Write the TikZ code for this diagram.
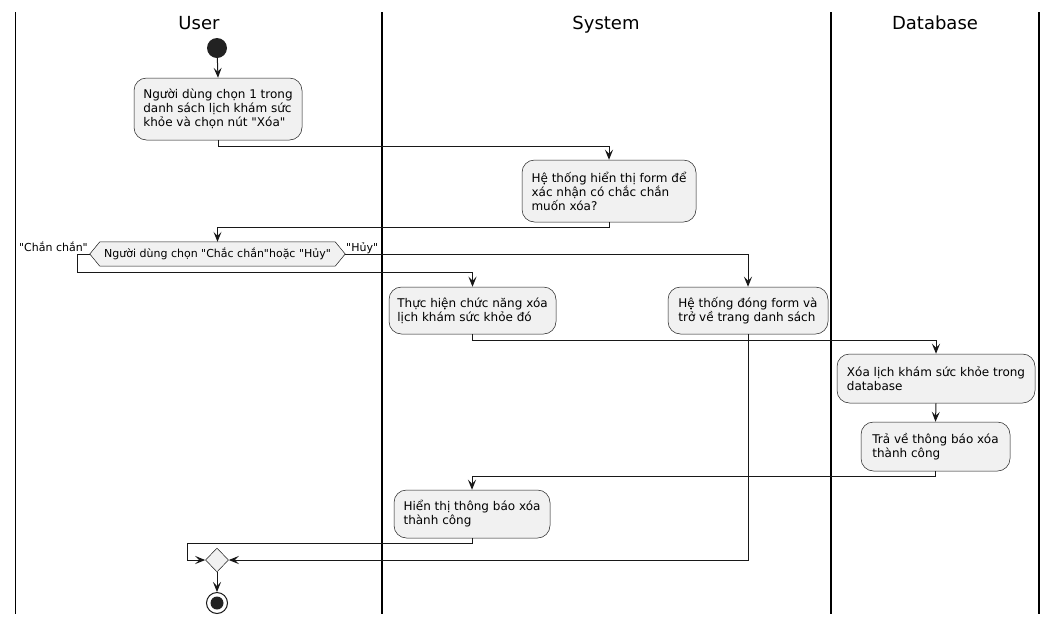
\documentclass[tikz,border=0pt]{standalone}
\usepackage{fontspec}
\setmainfont{DejaVu Sans}[Ligatures=TeXOff]
\usetikzlibrary{arrows.meta,shapes.geometric,calc,backgrounds}

\definecolor{actfill}{HTML}{F1F1F1}
\definecolor{ink}{HTML}{181818}
\definecolor{startfill}{HTML}{222222}

\begin{document}
\begin{tikzpicture}[x=1pt,y=-1pt,
  lane/.style={line width=1.5pt, black},
  head/.style={font=\fontsize{18}{21}\selectfont, anchor=base, inner sep=0pt},
  act/.style={draw=ink, line width=0.5pt, fill=actfill, rounded corners=12.5pt,
              align=left, font=\fontsize{12}{14}\selectfont, inner sep=0pt},
  flow/.style={draw=ink, line width=1pt, -{Stealth[length=10pt,width=8pt,inset=4pt]}},
  lbl/.style={font=\fontsize{11}{13}\selectfont, inner sep=0pt},
]
\useasboundingbox (0,0) rectangle (1058,625);

% swimlane separators
\draw[lane] (15.5,12) -- (15.5,614);
\draw[lane] (382,12) -- (382,614);
\draw[lane] (831,12) -- (831,614);
\draw[lane] (1039,12) -- (1039,614);

% lane titles
\node[head] (hUser) at (199,29) {User};
\node[head] (hSys) at (606,29) {System};
\node[head] (hDb) at (935,29) {Database};

% start
\node[circle, fill=startfill, minimum size=20pt, inner sep=0pt] (start) at (217,48) {};

% activities
\node[act, minimum width=168pt, minimum height=62pt] (a1) at (218,109)
  {Người dùng chọn 1 trong\\danh sách lịch khám sức\\khỏe và chọn nút "Xóa"};
\node[act, minimum width=174pt, minimum height=62pt] (a2) at (609,191)
  {Hệ thống hiển thị form để\\xác nhận có chắc chắn\\muốn xóa?};

% decision
\node[lbl, minimum width=255pt, minimum height=24pt] (dec) at (217.5,254)
  {Người dùng chọn "Chắc chắn"hoặc "Hủy"};
\begin{scope}[on background layer]
  \draw[draw=ink, line width=0.5pt, fill=actfill]
    (dec.west) -- ($(dec.north west)+(10,0)$) -- ($(dec.north east)+(-10,0)$)
    -- (dec.east) -- ($(dec.south east)+(-10,0)$) -- ($(dec.south west)+(10,0)$) -- cycle;
\end{scope}
\node[lbl, anchor=base east] (lyes) at (88,251) {"Chắn chắn"};
\node[lbl, anchor=base west] (lno) at (346,251) {"Hủy"};

\node[act, minimum width=167pt, minimum height=47pt] (a3) at (472.5,310.5)
  {Thực hiện chức năng xóa\\lịch khám sức khỏe đó};
\node[act, minimum width=160pt, minimum height=47pt] (a4) at (748,310.5)
  {Hệ thống đóng form và\\trở về trang danh sách};
\node[act, minimum width=198pt, minimum height=49pt] (a5) at (936,378.5)
  {Xóa lịch khám sức khỏe trong\\database};
\node[act, minimum width=149pt, minimum height=49pt] (a6) at (935.5,446.5)
  {Trả về thông báo xóa\\thành công};
\node[act, minimum width=156pt, minimum height=48pt] (a7) at (472,514)
  {Hiển thị thông báo xóa\\thành công};

% merge and stop
\node[diamond, draw=ink, line width=0.5pt, fill=actfill, minimum width=23pt,
      minimum height=24pt, inner sep=0pt] (merge) at (217,560) {};
\node[circle, draw=ink, line width=1pt, fill=white, minimum size=21pt, inner sep=0pt]
  (finish) at (217,603) {};
\fill[startfill] (finish.center) circle (6.5);

% control flow
\draw[flow] (start) -- (a1.north);
\draw[flow] (a1.south) -- ++(0,6) -| (a2.north);
\draw[flow] (a2.south) -- ++(0,5) -| (dec.north);
\draw[flow] (dec.west) -- ++(-12,0) -- ++(0,18) -| (a3.north);
\draw[flow] (dec.east) -| (a4.north);
\draw[flow] (a3.south) -- ++(0,6) -| (a5.north);
\draw[flow] (a5.south) -- (a6.north);
\draw[flow] (a6.south) -- ++(0,5) -| (a7.north);
\draw[flow] (a7.south) -- ++(0,5) -| ($(merge.west)+(-18,0)$) -- (merge.west);
\draw[flow] (a4.south) |- (merge.east);
\draw[flow] (merge.south) -- (finish.north);
\end{tikzpicture}
\end{document}
